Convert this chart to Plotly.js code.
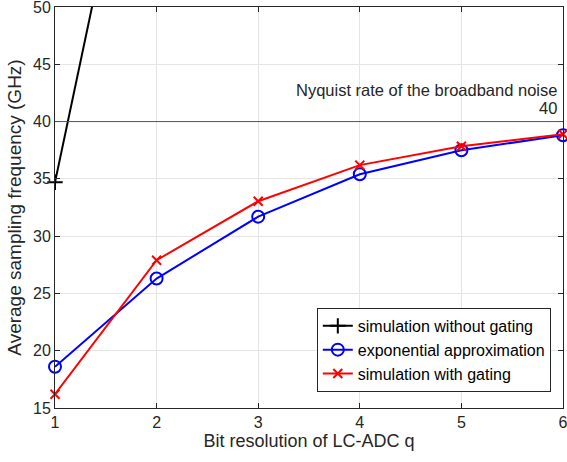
<!DOCTYPE html>
<html>
<head>
<meta charset="utf-8">
<script src="https://cdn.plot.ly/plotly-3.0.1.min.js"></script>
<style>html,body{margin:0;padding:0;background:#fff;}#chart{width:567px;height:462px;}</style>
</head>
<body>
<div id="chart"></div>
<script>
const q = [1, 2, 3, 4, 5, 6];
const qNoGating = [1, 2];
const noGating = [34.7, 76.7];
const expApprox = [18.6, 26.3, 31.7, 35.4, 37.5, 38.8];
const withGating = [16.2, 27.9, 33.05, 36.2, 37.85, 38.9];
const nyquist = 40;
const xTicks = [1, 2, 3, 4, 5, 6];
const yTicks = [15, 20, 25, 30, 35, 40, 45, 50];

const fam = 'Liberation Sans, Arial, sans-serif';
const tickFont = {family: fam, size: 16, color: '#262626'};
const titleFont = {family: fam, size: 18, color: '#262626'};

const traces = [
  {x: qNoGating, y: noGating, name: 'simulation without gating', mode: 'lines+markers',
   cliponaxis: false,
   line: {color: '#000000', width: 2},
   marker: {symbol: 'cross-thin-open', size: 11, line: {color: '#000000', width: 2}}},
  {x: q, y: expApprox, name: 'exponential approximation', mode: 'lines+markers',
   cliponaxis: false,
   line: {color: '#0000ff', width: 2},
   marker: {symbol: 'circle-open', size: 12, color: '#0000ff', line: {color: '#0000ff', width: 2}}},
  {x: q, y: withGating, name: 'simulation with gating', mode: 'lines+markers',
   cliponaxis: false,
   line: {color: '#ff0000', width: 2},
   marker: {symbol: 'x-thin-open', size: 9, line: {color: '#ff0000', width: 2}}}
];

const axisCommon = {
  showline: true, linecolor: '#262626', linewidth: 1, mirror: 'ticks',
  ticks: 'inside', ticklen: 5, tickcolor: '#262626',
  showgrid: true, gridcolor: '#e5e5e5', gridwidth: 1, zeroline: false,
  tickfont: tickFont, ticklabeloverflow: 'allow', automargin: false
};

const layout = {
  width: 567, height: 462,
  margin: {l: 55, r: 4, t: 7, b: 54},
  paper_bgcolor: '#ffffff', plot_bgcolor: '#ffffff',
  font: tickFont,
  showlegend: true,
  xaxis: Object.assign({}, axisCommon, {
    range: [1, 6], tickvals: xTicks, ticktext: xTicks.map(String),
    title: {text: 'Bit resolution of LC-ADC q', font: titleFont, standoff: 4}
  }),
  yaxis: Object.assign({}, axisCommon, {
    range: [15, 50], tickvals: yTicks, ticktext: yTicks.map(String),
    title: {text: 'Average sampling frequency (GHz)', font: {family: fam, size: 19, color: '#262626'}, standoff: 6}
  }),
  shapes: [{type: 'line', xref: 'paper', x0: 0, x1: 1, yref: 'y', y0: nyquist, y1: nyquist,
            line: {color: '#555555', width: 1}}],
  annotations: [
    {xref: 'paper', x: 0.993, yref: 'y', y: nyquist + 2.75, text: 'Nyquist rate of the broadband noise',
     showarrow: false, xanchor: 'right', yanchor: 'middle', font: {family: fam, size: 16.5, color: '#262626'}},
    {xref: 'paper', x: 0.993, yref: 'y', y: nyquist + 1.2, text: String(nyquist),
     showarrow: false, xanchor: 'right', yanchor: 'middle', font: {family: fam, size: 16.5, color: '#262626'}}
  ],
  legend: {
    x: 0.976, y: 0.04, xanchor: 'right', yanchor: 'bottom',
    bgcolor: '#ffffff', bordercolor: '#262626', borderwidth: 1,
    font: {family: fam, size: 16, color: '#000000'},
    tracegroupgap: 0, itemwidth: 30
  }
};

Plotly.newPlot('chart', traces, layout, {displayModeBar: false, staticPlot: true});
</script>
</body>
</html>
